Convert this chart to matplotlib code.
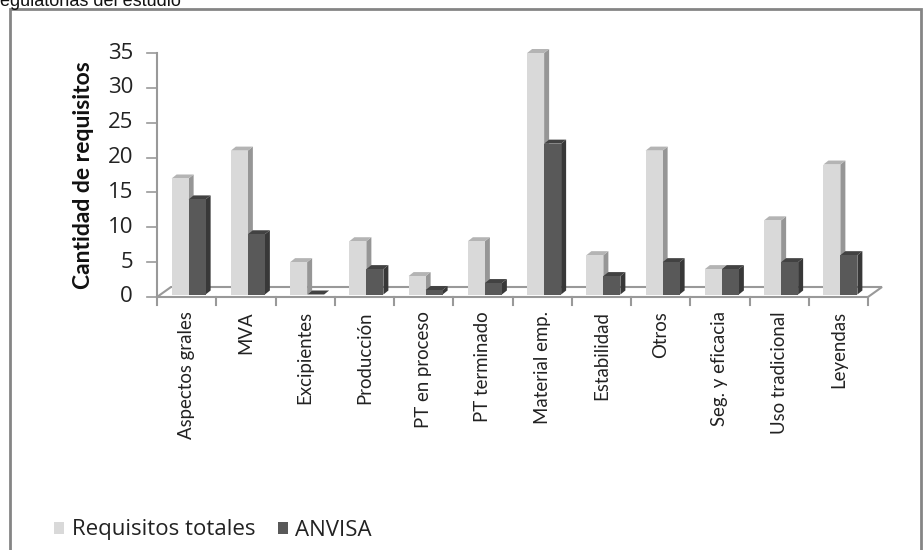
import matplotlib
matplotlib.use("Agg")
import matplotlib.pyplot as plt
from matplotlib.patches import Polygon, Rectangle, Patch
import numpy as np

categorias = ["Aspectos grales", "MVA", "Excipientes", "Producción", "PT en proceso",
              "PT terminado", "Material emp.", "Estabilidad", "Otros", "Seg. y eficacia",
              "Uso tradicional", "Leyendas"]
requisitos_totales = [17, 21, 5, 8, 3, 8, 35, 6, 21, 4, 11, 19]
anvisa = [14, 9, 0, 4, 1, 2, 22, 3, 5, 4, 5, 6]
series_nombres = ["Requisitos totales", "ANVISA"]
yticks = [0, 5, 10, 15, 20, 25, 30, 35]

W, H = 924, 550
fig = plt.figure(figsize=(W / 100, H / 100), dpi=100)
fig.patch.set_facecolor("white")

FONT = ["Lato", "DejaVu Sans"]
FONT_WIDE = ["Open Sans", "DejaVu Sans"]

# plot area in pixels
x0, x1 = 157, 868
y0, y1 = 297, 53
ax = fig.add_axes([x0 / W, 1 - y0 / H, (x1 - x0) / W, (y0 - y1) / H])
n = len(categorias)
ax.set_xlim(-0.5, n - 0.5)
ax.set_ylim(0, 35)
ax.axis("off")

px_x = (x1 - x0) / n          # pixels per category
px_y = (y0 - y1) / 35.0       # pixels per unit

def dxp(p):
    return p / px_x

def dyp(p):
    return p / px_y

grid_col = "#999999"

# floor (3D base)
fdx, fdy = dxp(14), dyp(10)
floor = Polygon([(-0.5, 0), (n - 0.5, 0), (n - 0.5 + fdx, fdy), (-0.5 + fdx, fdy)],
                closed=True, facecolor="white", edgecolor=grid_col, lw=1.5, zorder=1,
                clip_on=False)
ax.add_patch(floor)

# value axis
ax.plot([-0.5, -0.5], [0, 35], color=grid_col, lw=1.5, clip_on=False, zorder=2)
for t in yticks:
    ax.plot([-0.5 - dxp(10), -0.5], [t, t], color=grid_col, lw=1.2, clip_on=False, zorder=2)
    ax.text(-0.5 - dxp(24), t, str(t), ha="right", va="center", fontsize=16,
            family=FONT_WIDE, color="#222222")

# category ticks and labels
for i in range(n + 1):
    xb = i - 0.5
    ax.plot([xb, xb], [0, -dyp(8)], color=grid_col, lw=1.5, clip_on=False, zorder=2)
for i, c in enumerate(categorias):
    ax.text(i, -dyp(14), c, rotation=90, ha="center", va="top", fontsize=13.4,
            family=FONT, color="#222222")

ax.text(-0.5 - dxp(73), 17.5, "Cantidad de requisitos", rotation=90, ha="center",
        va="center", fontsize=16.5, fontweight="bold", family=FONT, color="#111111")

# 3D bars
bw = 17 / px_x
bdx, bdy = dxp(5), dyp(4)
shift_x = dxp(2)
base = dyp(2.5)
styles = [
    dict(face="#d9d9d9", side="#969696", top="#b4b4b4"),
    dict(face="#595959", side="#383838", top="#424242"),
]
for i in range(n):
    for s, vals in enumerate([requisitos_totales, anvisa]):
        v = max(vals[i], base)
        st = styles[s]
        left = i - bw + shift_x + s * bw
        z = 3 + s * 0.5 + i * 0.01
        ax.bar(left, v - base, width=bw, bottom=base, align="edge",
               color=st["face"], edgecolor="none", zorder=z + 0.1, clip_on=False)
        r = left + bw
        side = Polygon([(r, base), (r + bdx, base + bdy), (r + bdx, v + bdy), (r, v)],
                       closed=True, facecolor=st["side"], edgecolor="none", zorder=z,
                       clip_on=False)
        top = Polygon([(left, v), (r, v), (r + bdx, v + bdy), (left + bdx, v + bdy)],
                      closed=True, facecolor=st["top"], edgecolor="none", zorder=z,
                      clip_on=False)
        ax.add_patch(side)
        ax.add_patch(top)

# outer frame
fig.patches.append(Rectangle((10 / W, -0.1), (921 - 10) / W, 1.1 - 9 / H,
                             transform=fig.transFigure, facecolor="none",
                             edgecolor="#858585", lw=2.0, zorder=0))

# text above the frame
fig.text(-6 / W, 1 - 6 / H, "regulatorias del estudio", ha="left", va="baseline",
         fontsize=13, family=["Liberation Sans", "DejaVu Sans"], color="#111111")

# legend
handles = [Patch(facecolor=styles[0]["face"], edgecolor="none"),
           Patch(facecolor=styles[1]["face"], edgecolor="none")]
leg = fig.legend(handles, series_nombres, loc="center left",
                 bbox_to_anchor=(34 / W, 20 / H), ncol=2, frameon=False,
                 handlelength=0.45, handleheight=0.45, handletextpad=0.35,
                 columnspacing=1.0, prop={"family": FONT_WIDE, "size": 16})
for t in leg.get_texts():
    t.set_color("#222222")

fig.savefig("out.png", dpi=100, facecolor="white")
